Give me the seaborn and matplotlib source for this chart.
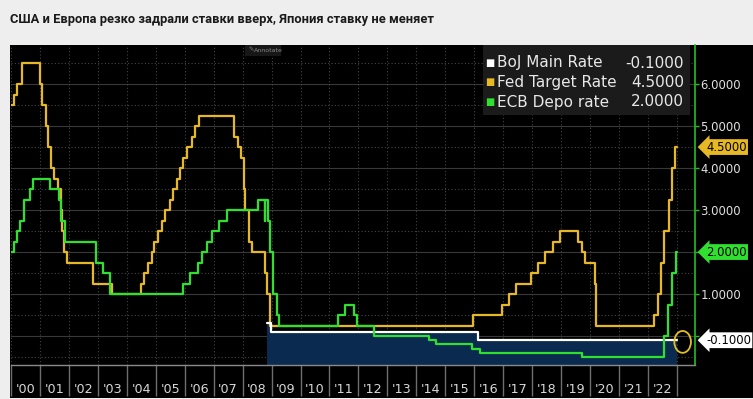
import pandas as pd
import matplotlib
matplotlib.use("Agg")
import matplotlib.pyplot as plt
import matplotlib.transforms as mtransforms
from matplotlib.patches import Rectangle, Ellipse
import seaborn as sns

# ---------- Data ----------
fed_dates = ["2000-01-01", "2000-02-02", "2000-03-21", "2000-05-16",
             "2001-01-03", "2001-01-31", "2001-03-20", "2001-04-18", "2001-05-15",
             "2001-06-27", "2001-08-21", "2001-09-17", "2001-10-02", "2001-11-06",
             "2001-12-11", "2002-11-06", "2003-06-25",
             "2004-06-30", "2004-08-10", "2004-09-21", "2004-11-10", "2004-12-14",
             "2005-02-02", "2005-03-22", "2005-05-03", "2005-06-30", "2005-08-09",
             "2005-09-20", "2005-11-01", "2005-12-13",
             "2006-01-31", "2006-03-28", "2006-05-10", "2006-06-29",
             "2007-09-18", "2007-10-31", "2007-12-11",
             "2008-01-22", "2008-01-30", "2008-03-18", "2008-04-30", "2008-10-08",
             "2008-10-29", "2008-12-16",
             "2015-12-16", "2016-12-14", "2017-03-15", "2017-06-14", "2017-12-13",
             "2018-03-21", "2018-06-13", "2018-09-26", "2018-12-19",
             "2019-07-31", "2019-09-18", "2019-10-30", "2020-03-03", "2020-03-15",
             "2022-03-16", "2022-05-04", "2022-06-15", "2022-07-27", "2022-09-21",
             "2022-11-02", "2022-12-14", "2023-01-05"]
fed_rates = [5.5, 5.75, 6.0, 6.5,
             6.0, 5.5, 5.0, 4.5, 4.0,
             3.75, 3.5, 3.0, 2.5, 2.0,
             1.75, 1.25, 1.0,
             1.25, 1.5, 1.75, 2.0, 2.25,
             2.5, 2.75, 3.0, 3.25, 3.5,
             3.75, 4.0, 4.25,
             4.5, 4.75, 5.0, 5.25,
             4.75, 4.5, 4.25,
             3.5, 3.0, 2.25, 2.0, 1.5,
             1.0, 0.25,
             0.5, 0.75, 1.0, 1.25, 1.5,
             1.75, 2.0, 2.25, 2.5,
             2.25, 2.0, 1.75, 1.25, 0.25,
             0.5, 1.0, 1.75, 2.5, 3.25,
             4.0, 4.5, 4.5]

ecb_dates = ["2000-01-01", "2000-02-04", "2000-03-17", "2000-04-28", "2000-06-09",
             "2000-09-01", "2000-10-06", "2001-05-11", "2001-08-31", "2001-09-18",
             "2001-11-09", "2002-12-06", "2003-03-07", "2003-06-06",
             "2005-12-06", "2006-03-08", "2006-06-15", "2006-08-09", "2006-10-11",
             "2006-12-13", "2007-03-14", "2007-06-13", "2008-07-09", "2008-10-08",
             "2008-10-09", "2008-11-12", "2008-12-10", "2009-01-21", "2009-03-11",
             "2009-04-08", "2011-04-13", "2011-07-13", "2011-11-09", "2011-12-14",
             "2012-07-11", "2014-06-11", "2014-09-10", "2015-12-09", "2016-03-16",
             "2019-09-18", "2022-07-27", "2022-09-14", "2022-11-02", "2022-12-21",
             "2023-01-05"]
ecb_rates = [2.0, 2.25, 2.5, 2.75, 3.25,
             3.5, 3.75, 3.5, 3.25, 2.75,
             2.25, 1.75, 1.5, 1.0,
             1.25, 1.5, 1.75, 2.0, 2.25,
             2.5, 2.75, 3.0, 3.25, 2.75,
             3.25, 2.75, 2.0, 1.0, 0.5,
             0.25, 0.5, 0.75, 0.5, 0.25,
             0.0, -0.1, -0.2, -0.3, -0.4,
             -0.5, 0.0, 0.75, 1.5, 2.0,
             2.0]

boj_dates = ["2008-10-31", "2008-12-19", "2016-02-16", "2023-01-05"]
boj_rates = [0.3, 0.1, -0.1, -0.1]

years = list(range(2000, 2024))
year_labels = ["'%02d" % (y % 100) for y in range(2000, 2023)]
y_ticks = [0, 1, 2, 3, 4, 5, 6]
y_ticklabels = ["", "1.0000", "", "3.0000", "4.0000", "5.0000", "6.0000"]

legend_names = ["BoJ Main Rate", "Fed Target Rate", "ECB Depo rate"]
legend_values = ["-0.1000", "4.5000", "2.0000"]
tag_values = [-0.1, 4.5, 2.0]

title = "США и Европа резко задрали ставки вверх, Япония ставку не меняет"

# ---------- Style ----------
W, H = 753, 399
BOJ_C, FED_C, ECB_C = "#ffffff", "#e6b823", "#2fe02f"
colors = [BOJ_C, FED_C, ECB_C]


def fx(x):
    return x / W


def fy(y):
    return 1 - y / H


sns.set_style("dark")
fig = plt.figure(figsize=(W / 100, H / 100), dpi=100, facecolor="#eeeeee")

# black terminal panel
fig.patches.append(Rectangle((fx(10), fy(398)), fx(753) - fx(10), fy(45) - fy(398),
                             transform=fig.transFigure, fc="black", ec="none", zorder=-5))

ax = fig.add_axes([fx(11), fy(365), fx(695) - fx(11), fy(45) - fy(365)])
ax.set_facecolor("black")

# grid
for i in range(-1, 14):
    v = i * 0.5
    if i % 2 == 0:
        ax.axhline(v, color="#383838", lw=0.8, zorder=0)
    else:
        ax.axhline(v, color="#444444", lw=0.8, ls=(0, (1, 2)), zorder=0)
for y in years:
    ax.axvline(pd.Timestamp(f"{y}-01-01"), color="#444444", lw=0.8, ls=(0, (1, 2)), zorder=0)

# BoJ shaded area
ax.fill_between(pd.to_datetime(boj_dates), boj_rates, -0.69, step="post",
                color="#0b2a4f", lw=0, zorder=1)

fed = pd.DataFrame({"date": pd.to_datetime(fed_dates), "rate": fed_rates})
ecb = pd.DataFrame({"date": pd.to_datetime(ecb_dates), "rate": ecb_rates})
boj = pd.DataFrame({"date": pd.to_datetime(boj_dates), "rate": boj_rates})

sns.lineplot(data=fed, x="date", y="rate", drawstyle="steps-post", color=FED_C,
             lw=1.6, estimator=None, ax=ax, zorder=3)
sns.lineplot(data=boj, x="date", y="rate", drawstyle="steps-post", color=BOJ_C,
             lw=1.6, estimator=None, ax=ax, zorder=3)
sns.lineplot(data=ecb, x="date", y="rate", drawstyle="steps-post", color=ECB_C,
             lw=1.6, estimator=None, ax=ax, zorder=4)

ax.set_xlim(pd.Timestamp("2000-01-01"), pd.Timestamp("2023-08-18"))
ax.set_ylim(-0.69, 6.93)
ax.set_xlabel("")
ax.set_ylabel("")

for s in ["top", "left"]:
    ax.spines[s].set_visible(False)
ax.spines["right"].set_color("#22c022")
ax.spines["right"].set_linewidth(1.2)
ax.spines["bottom"].set_color("#8a8a8a")
ax.spines["bottom"].set_linewidth(1.0)

# right axis
ax.yaxis.tick_right()
ax.set_yticks(y_ticks)
ax.set_yticklabels(y_ticklabels)
ax.tick_params(axis="y", right=True, left=False, colors="#22c022", labelcolor="#e0e0e0",
               length=3, width=1, labelsize=8.4, pad=1)

# x axis: separators at year starts, labels at mid-year
ax.set_xticks([pd.Timestamp(f"{y}-01-01") for y in years])
ax.set_xticklabels([""] * len(years))
ax.set_xticks([pd.Timestamp(f"{y}-07-02") for y in range(2000, 2023)], minor=True)
ax.set_xticklabels(year_labels, minor=True)
ax.tick_params(axis="x", which="major", bottom=True, length=22, width=1, color="#6e6e6e",
               direction="out")
ax.tick_params(axis="x", which="minor", bottom=True, length=0, pad=13, labelsize=9.2,
               labelcolor="#d8d8d8")

# last value tags
blend = mtransforms.blended_transform_factory(ax.transAxes, ax.transData)
for v, c in zip(tag_values, colors):
    ax.text(1.016, v, f"{v:.4f}", transform=blend, ha="left", va="center",
            fontsize=8.4, color="black", clip_on=False, zorder=6,
            bbox=dict(boxstyle="larrow,pad=0.12", fc=c, ec="none"))

# circle around the end point
ax.add_patch(Ellipse((pd.Timestamp("2023-03-15").toordinal() - 719163, -0.14),
                     width=210, height=0.52, fill=False, ec="#e2c020", lw=1.3, zorder=6))

# legend panel
fig.patches.append(Rectangle((fx(483), fy(115)), fx(690) - fx(483), fy(45) - fy(115),
                             transform=fig.transFigure, fc="#1b1b1b", ec="none", zorder=5))
for i, (name, val, c) in enumerate(zip(legend_names, legend_values, colors)):
    yy = fy(63 + i * 19.5)
    fig.text(fx(485), yy, "■", color=c, fontsize=7, va="center", zorder=6)
    fig.text(fx(497), yy, name, color="#e8e8e8", fontsize=11, va="center", zorder=6)
    fig.text(fx(684), yy, val, color="#e8e8e8", fontsize=11, va="center", ha="right", zorder=6)

# "Annotate" button
fig.patches.append(Rectangle((fx(245), fy(56)), fx(281) - fx(245), fy(45) - fy(56),
                             transform=fig.transFigure, fc="#171717", ec="none", zorder=5))
fig.text(fx(248), fy(50), "✎", color="#808080", fontsize=4.5, va="center", zorder=6)
fig.text(fx(254), fy(50), "Annotate", color="#8a8a8a", fontsize=4.5, va="center", zorder=6)

fig.text(fx(10), fy(19), title, color="#1a1a1a", fontsize=9.3, fontweight="bold",
         family="Roboto", va="center")

fig.savefig("out.png", dpi=100, facecolor=fig.get_facecolor())
